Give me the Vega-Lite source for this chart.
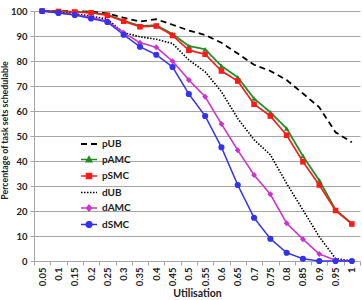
{
  "$schema": "https://vega.github.io/schema/vega-lite/v6.json",
  "width": 326,
  "height": 250,
  "autosize": "none",
  "padding": {"left": 34, "top": 11, "right": 2, "bottom": 39},
  "background": "white",
  "config": {
    "view": {"stroke": null},
    "font": "Lato",
    "axis": {
      "labelFont": "Lato", "labelFontWeight": "bold", "labelFontSize": 9.5, "labelColor": "#222",
      "titleFont": "Lato", "titleFontWeight": "bold", "titleFontSize": 10.5, "titleColor": "#222",
      "gridColor": "#a6a6a6", "domainColor": "#a6a6a6", "tickColor": "#a6a6a6", "tickSize": 4
    }
  },
  "data": {"values": [
    {"s":"pUB","u":0.05,"v":100},{"s":"pUB","u":0.1,"v":100},{"s":"pUB","u":0.15,"v":99.9},{"s":"pUB","u":0.2,"v":99.7},{"s":"pUB","u":0.25,"v":99},{"s":"pUB","u":0.3,"v":97.3},{"s":"pUB","u":0.35,"v":95.8},{"s":"pUB","u":0.4,"v":96.7},{"s":"pUB","u":0.45,"v":94.5},{"s":"pUB","u":0.5,"v":92.2},{"s":"pUB","u":0.55,"v":90.4},{"s":"pUB","u":0.6,"v":87.3},{"s":"pUB","u":0.65,"v":83},{"s":"pUB","u":0.7,"v":78.5},{"s":"pUB","u":0.75,"v":76},{"s":"pUB","u":0.8,"v":72.4},{"s":"pUB","u":0.85,"v":67},{"s":"pUB","u":0.9,"v":61.5},{"s":"pUB","u":0.95,"v":51.5},{"s":"pUB","u":1,"v":47.5},
    {"s":"pAMC","u":0.05,"v":100},{"s":"pAMC","u":0.1,"v":99.9},{"s":"pAMC","u":0.15,"v":99.7},{"s":"pAMC","u":0.2,"v":99.4},{"s":"pAMC","u":0.25,"v":98.5},{"s":"pAMC","u":0.3,"v":96.2},{"s":"pAMC","u":0.35,"v":94},{"s":"pAMC","u":0.4,"v":94.3},{"s":"pAMC","u":0.45,"v":90.8},{"s":"pAMC","u":0.5,"v":86},{"s":"pAMC","u":0.55,"v":84.7},{"s":"pAMC","u":0.6,"v":78},{"s":"pAMC","u":0.65,"v":73.5},{"s":"pAMC","u":0.7,"v":65},{"s":"pAMC","u":0.75,"v":59.5},{"s":"pAMC","u":0.8,"v":53},{"s":"pAMC","u":0.85,"v":42},{"s":"pAMC","u":0.9,"v":32.3},{"s":"pAMC","u":0.95,"v":20.5},{"s":"pAMC","u":1,"v":15},
    {"s":"pSMC","u":0.05,"v":100},{"s":"pSMC","u":0.1,"v":99.8},{"s":"pSMC","u":0.15,"v":99.6},{"s":"pSMC","u":0.2,"v":99.3},{"s":"pSMC","u":0.25,"v":98.3},{"s":"pSMC","u":0.3,"v":95.9},{"s":"pSMC","u":0.35,"v":93.7},{"s":"pSMC","u":0.4,"v":94},{"s":"pSMC","u":0.45,"v":90.2},{"s":"pSMC","u":0.5,"v":84.3},{"s":"pSMC","u":0.55,"v":82.7},{"s":"pSMC","u":0.6,"v":76},{"s":"pSMC","u":0.65,"v":72},{"s":"pSMC","u":0.7,"v":62.7},{"s":"pSMC","u":0.75,"v":58},{"s":"pSMC","u":0.8,"v":50.3},{"s":"pSMC","u":0.85,"v":39.7},{"s":"pSMC","u":0.9,"v":30.4},{"s":"pSMC","u":0.95,"v":20.2},{"s":"pSMC","u":1,"v":14.8},
    {"s":"dUB","u":0.05,"v":100},{"s":"dUB","u":0.1,"v":99.5},{"s":"dUB","u":0.15,"v":98.8},{"s":"dUB","u":0.2,"v":98},{"s":"dUB","u":0.25,"v":96.7},{"s":"dUB","u":0.3,"v":91.3},{"s":"dUB","u":0.35,"v":89.7},{"s":"dUB","u":0.4,"v":88.7},{"s":"dUB","u":0.45,"v":87},{"s":"dUB","u":0.5,"v":80.4},{"s":"dUB","u":0.55,"v":75.7},{"s":"dUB","u":0.6,"v":67.7},{"s":"dUB","u":0.65,"v":57},{"s":"dUB","u":0.7,"v":48.5},{"s":"dUB","u":0.75,"v":42.5},{"s":"dUB","u":0.8,"v":31},{"s":"dUB","u":0.85,"v":20.4},{"s":"dUB","u":0.9,"v":9.7},{"s":"dUB","u":0.95,"v":1},{"s":"dUB","u":1,"v":0},
    {"s":"dAMC","u":0.05,"v":100},{"s":"dAMC","u":0.1,"v":99.3},{"s":"dAMC","u":0.15,"v":98.5},{"s":"dAMC","u":0.2,"v":97.5},{"s":"dAMC","u":0.25,"v":96},{"s":"dAMC","u":0.3,"v":91.3},{"s":"dAMC","u":0.35,"v":87.3},{"s":"dAMC","u":0.4,"v":85.5},{"s":"dAMC","u":0.45,"v":79.9},{"s":"dAMC","u":0.5,"v":72.4},{"s":"dAMC","u":0.55,"v":65.7},{"s":"dAMC","u":0.6,"v":54.8},{"s":"dAMC","u":0.65,"v":44.3},{"s":"dAMC","u":0.7,"v":34.4},{"s":"dAMC","u":0.75,"v":26.7},{"s":"dAMC","u":0.8,"v":15.1},{"s":"dAMC","u":0.85,"v":8.7},{"s":"dAMC","u":0.9,"v":2.8},{"s":"dAMC","u":0.95,"v":0.3},{"s":"dAMC","u":1,"v":0},
    {"s":"dSMC","u":0.05,"v":100},{"s":"dSMC","u":0.1,"v":99.2},{"s":"dSMC","u":0.15,"v":98.4},{"s":"dSMC","u":0.2,"v":97},{"s":"dSMC","u":0.25,"v":95.6},{"s":"dSMC","u":0.3,"v":90.5},{"s":"dSMC","u":0.35,"v":85.7},{"s":"dSMC","u":0.4,"v":82.5},{"s":"dSMC","u":0.45,"v":77.6},{"s":"dSMC","u":0.5,"v":66.8},{"s":"dSMC","u":0.55,"v":58},{"s":"dSMC","u":0.6,"v":45.5},{"s":"dSMC","u":0.65,"v":30.4},{"s":"dSMC","u":0.7,"v":17.3},{"s":"dSMC","u":0.75,"v":8.9},{"s":"dSMC","u":0.8,"v":3.3},{"s":"dSMC","u":0.85,"v":0.9},{"s":"dSMC","u":0.9,"v":0},{"s":"dSMC","u":0.95,"v":0},{"s":"dSMC","u":1,"v":0}
  ]},
  "encoding": {
    "x": {
      "field": "u", "type": "ordinal",
      "scale": {"type": "band", "paddingInner": 0, "paddingOuter": 0},
      "axis": {"title": "Utilisation", "labelAngle": 270, "tickBand": "extent", "grid": false, "labelPadding": 2, "titlePadding": 3}
    },
    "y": {
      "field": "v", "type": "quantitative",
      "scale": {"domain": [0, 100], "nice": false},
      "axis": {"title": "Percentage of task sets schedulable", "titleFontSize": 8.8, "titleY": 119, "values": [0,10,20,30,40,50,60,70,80,90,100], "labelPadding": 3, "titlePadding": 1}
    }
  },
  "layer": [
    {
      "mark": {"type": "line"},
      "encoding": {
        "color": {
          "field": "s", "type": "nominal",
          "scale": {"domain": ["pUB","pAMC","pSMC","dUB","dAMC","dSMC"], "range": ["#000000","#1e8c1e","#ff1a1a","#000000","#cc33cc","#3333ee"]},
          "legend": {
            "orient": "none", "legendX": 46, "legendY": 124, "title": null,
            "symbolSize": 256, "rowPadding": 1.5, "labelOffset": 4,
            "labelFont": "Lato", "labelFontWeight": "bold", "labelFontSize": 10, "labelColor": "#222",
            "encode": {"symbols": {"update": {
              "shape": {"signal": "datum.value==='pAMC' ? 'M-1,0H1M-0.32,0.26L0,-0.32L0.32,0.26Z' : datum.value==='pSMC' ? 'M-1,0H1M-0.3,-0.3H0.3V0.3H-0.3Z' : datum.value==='dAMC' ? 'M-1,0H1M0,-0.36L0.3,0L0,0.36L-0.3,0Z' : datum.value==='dSMC' ? 'M-1,0H1M0.36,0A0.36,0.36,0,1,1,-0.36,0A0.36,0.36,0,1,1,0.36,0Z' : 'M-1,0H1'"},
              "fill": {"scale": "color", "field": "value"},
              "stroke": {"scale": "color", "field": "value"},
              "strokeWidth": {"value": 1.5},
              "strokeDash": {"signal": "datum.value==='pUB' ? [4,3] : datum.value==='dUB' ? [1.2,1.2] : []"},
              "opacity": {"value": 1}
            }}}
          }
        },
        "strokeDash": {
          "field": "s", "type": "nominal", "legend": null,
          "scale": {"domain": ["pUB","pAMC","pSMC","dUB","dAMC","dSMC"], "range": [[6,4],[1,0],[1,0],[1.5,1.5],[1,0],[1,0]]}
        },
        "strokeWidth": {
          "field": "s", "type": "nominal", "legend": null,
          "scale": {"domain": ["pUB","pAMC","pSMC","dUB","dAMC","dSMC"], "range": [1.8,1.5,1.5,1.2,1.5,1.5]}
        }
      }
    },
    {
      "transform": [{"filter": "datum.s !== 'pUB' && datum.s !== 'dUB'"}],
      "mark": {"type": "point", "filled": true, "opacity": 1},
      "encoding": {
        "color": {"field": "s", "type": "nominal"},
        "shape": {
          "field": "s", "type": "nominal", "legend": null,
          "scale": {"domain": ["pAMC","pSMC","dAMC","dSMC"], "range": ["triangle-up","square","diamond","circle"]}
        },
        "size": {
          "field": "s", "type": "nominal", "legend": null,
          "scale": {"domain": ["pAMC","pSMC","dAMC","dSMC"], "range": [28,38,30,42]}
        }
      }
    }
  ]
}
